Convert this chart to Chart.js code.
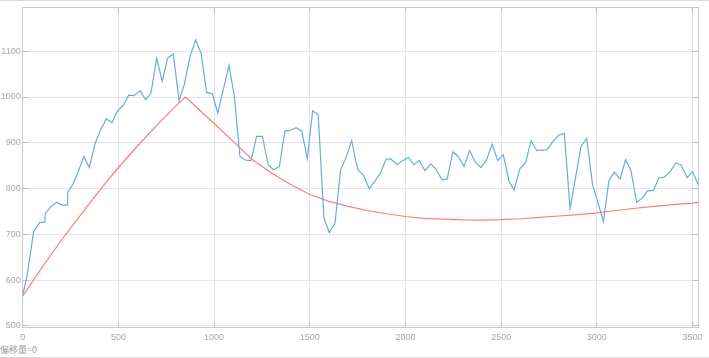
<!DOCTYPE html>
<html>
<head>
<meta charset="utf-8">
<script src="https://cdn.jsdelivr.net/npm/chart.js@4.4.1/dist/chart.umd.min.js"></script>
<style>
  html, body { margin: 0; padding: 0; background: #fff; }
  #wrap { position: relative; width: 709px; height: 358px; overflow: hidden; }
  #c { position: absolute; left: 0; top: 0; }
  #note { position: absolute; left: 0; top: 344px; font: 9px "Noto Sans CJK SC", "Liberation Sans", sans-serif; color: #9a9a9a; line-height: 12px; }
  .edge { position: absolute; left: 0; width: 709px; height: 1px; background: #dcdcdc; }
</style>
</head>
<body>
<div id="wrap">
  <canvas id="c" width="709" height="358"></canvas>
  <div id="note">偏移量=0</div>
  <div class="edge" style="top:0"></div>
  <div class="edge" style="top:357px"></div>
</div>
<script>
// ---- data ----
const xTickValues = [0, 500, 1000, 1500, 2000, 2500, 3000, 3500];
const yTickValues = [500, 600, 700, 800, 900, 1000, 1100];

const measuredX = [0,24,57,89,115,118,149,176,205,233,235,263,291,319,348,379,411,437,466,494,524,554,582,613,642,670,700,729,757,787,817,845,874,904,932,961,991,1019,1078,1106,1135,1165,1193,1222,1252,1283,1309,1341,1370,1397,1428,1458,1487,1515,1544,1574,1602,1632,1661,1689,1719,1741,1753,1780,1811,1841,1870,1898,1923,1957,1985,2015,2044,2072,2102,2132,2159,2191,2218,2247,2276,2306,2335,2366,2394,2424,2453,2482,2511,2541,2567,2598,2628,2656,2686,2741,2772,2802,2830,2860,2917,2947,2978,3004,3034,3063,3091,3121,3150,3178,3208,3237,3265,3295,3324,3352,3382,3413,3439,3472,3500,3530];
const measuredY = [567,612,706,726,726,745,761,770,764,764,792,810,838,870,846,899,932,952,944,969,981,1004,1003,1014,994,1008,1085,1034,1085,1094,992,1028,1088,1125,1096,1010,1007,965,1069,1001,870,862,861,914,914,852,841,848,926,927,933,926,865,970,961,736,704,725,841,867,905,859,840,829,800,817,834,864,865,852,861,868,852,861,839,854,843,819,821,880,870,848,883,857,846,863,897,861,874,816,797,843,857,904,883,885,904,917,920,756,892,909,807,772,728,817,836,821,863,839,770,779,795,796,823,825,836,856,852,824,837,808];

const modelX = [0,100,200,300,400,500,600,700,800,850,900,1000,1100,1200,1300,1400,1500,1600,1700,1800,1900,2000,2100,2200,2300,2400,2500,2600,2700,2800,2900,3000,3100,3200,3300,3400,3500,3530];
const modelY = [565,627,686,741,795,846,893,938,980,1000,981,942,903,863,834,809,787,772,761,752,745,739,735,733,731.5,731,732,734,737,740,743,747,752,757,761,765,768,770];

const X_MIN = 0, X_MAX = 3530, Y_MIN = 496, Y_MAX = 1196;

const toPts = (xs, ys) => xs.map((x, i) => ({ x: x, y: ys[i] }));

const gridColor = '#e4e4e4';
const tickColor = '#bdbdbd';
const borderColor = '#c9c9c9';
const labelFont = { family: '"Liberation Sans", Arial, sans-serif', size: 9 };
const labelColor = '#a8a8a8';

const setTicks = vals => scale => { scale.ticks = vals.map(v => ({ value: v })); };
const fitTo = (w, h) => s => {
  if (w !== null) s.width = w;
  if (h !== null) s.height = h;
  s.paddingLeft = 0; s.paddingRight = 0; s.paddingTop = 0; s.paddingBottom = 0;
};
const plain = v => String(v);

new Chart(document.getElementById('c'), {
  type: 'line',
  data: {
    datasets: [
      {
        label: 'measured',
        data: toPts(measuredX, measuredY),
        borderColor: '#68addf',
        borderWidth: 1.2,
        pointRadius: 0,
        tension: 0,
        fill: false
      },
      {
        label: 'model',
        data: toPts(modelX, modelY),
        borderColor: '#ff7b7b',
        borderWidth: 1.2,
        pointRadius: 0,
        tension: 0,
        fill: false
      }
    ]
  },
  options: {
    responsive: false,
    animation: false,
    devicePixelRatio: 1,
    layout: { padding: { left: 0, right: 10.7, top: 7.3, bottom: 0 } },
    plugins: { legend: { display: false }, tooltip: { enabled: false } },
    scales: {
      x: {
        type: 'linear', position: 'bottom', min: X_MIN, max: X_MAX,
        afterBuildTicks: setTicks(xTickValues),
        afterFit: fitTo(null, 30.3),
        grid: { color: gridColor, lineWidth: 1, drawTicks: true, tickLength: -6, tickColor: tickColor },
        border: { display: true, color: borderColor, width: 1 },
        ticks: { font: labelFont, color: labelColor, padding: 10, maxRotation: 0, autoSkip: false, callback: plain }
      },
      y: {
        type: 'linear', position: 'left', min: Y_MIN, max: Y_MAX,
        afterBuildTicks: setTicks(yTickValues),
        afterFit: fitTo(22.7, null),
        grid: { color: gridColor, lineWidth: 1, drawTicks: true, tickLength: -6, tickColor: tickColor },
        border: { display: true, color: borderColor, width: 1 },
        ticks: { font: labelFont, color: labelColor, padding: 8, autoSkip: false, callback: plain }
      },
      x2: {
        type: 'linear', position: 'top', min: X_MIN, max: X_MAX,
        afterBuildTicks: setTicks(xTickValues),
        afterFit: fitTo(null, 0),
        grid: { drawOnChartArea: false, drawTicks: true, tickLength: -6, tickColor: tickColor },
        border: { display: true, color: borderColor, width: 1 },
        ticks: { display: false }
      },
      y2: {
        type: 'linear', position: 'right', min: Y_MIN, max: Y_MAX,
        afterBuildTicks: setTicks(yTickValues),
        afterFit: fitTo(0, null),
        grid: { drawOnChartArea: false, drawTicks: true, tickLength: -6, tickColor: tickColor },
        border: { display: true, color: borderColor, width: 1 },
        ticks: { display: false }
      }
    }
  }
});
</script>
</body>
</html>
